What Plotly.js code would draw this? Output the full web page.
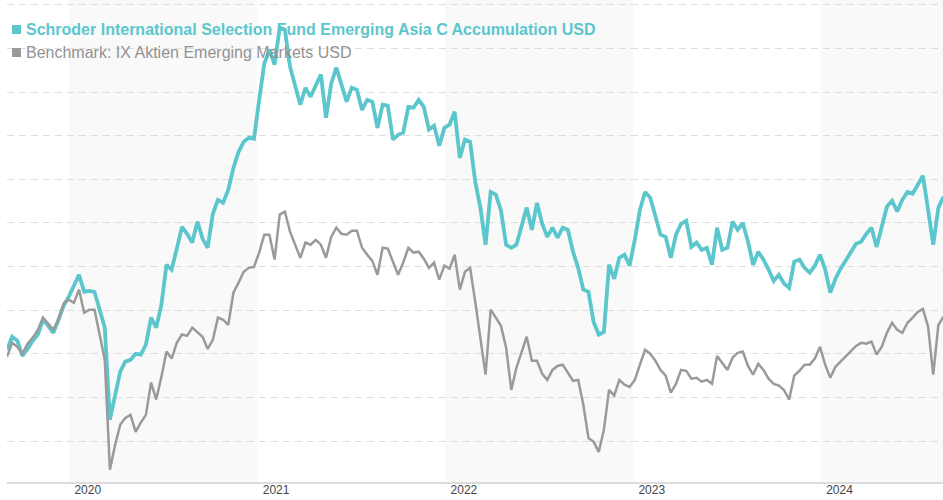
<!DOCTYPE html>
<html>
<head>
<meta charset="utf-8">
<script src="https://cdn.plot.ly/plotly-3.0.1.min.js"></script>
<style>
  html, body { margin: 0; padding: 0; background: #ffffff; }
  #chart { width: 943px; height: 500px; }
</style>
</head>
<body>
<div id="chart"></div>
<script>
// Cumulative performance (%) sampled every 10 days from 2019-09-03
const startDate = '2019-09-03';
const stepDays = 10;

const fundName = 'Schroder International Selection Fund Emerging Asia C Accumulation USD';
const benchName = 'Benchmark: IX Aktien Emerging Markets USD';

const fundValues = [
  0.9, 3.9, 3.0, -0.5, 1.1, 3.0, 4.4, 7.8, 6.4, 4.8,
  7.8, 11.0, 13.1, 15.4, 18.1, 14.2, 14.4, 14.2, 9.9, 6.0,
  -15.1, -9.4, -4.1, -1.8, -1.4, 0.0, -0.2, 2.1, 8.3, 6.0,
  11.2, 20.4, 19.3, 24.1, 29.1, 27.5, 25.5, 30.3, 26.4, 24.3,
  32.1, 35.3, 34.6, 37.6, 42.6, 46.3, 48.6, 49.5, 49.3, 58.2,
  66.5, 69.7, 66.3, 74.8, 74.3, 65.8, 61.7, 57.1, 61.0, 58.9,
  61.5, 64.0, 54.1, 61.9, 65.6, 61.7, 57.8, 61.0, 60.5, 55.9,
  58.2, 57.8, 51.8, 57.1, 56.9, 49.1, 50.2, 50.7, 56.6, 56.4,
  58.2, 56.6, 51.4, 52.3, 47.7, 51.8, 52.5, 55.5, 44.9, 49.1,
  48.6, 39.4, 33.5, 25.0, 37.1, 36.5, 32.8, 25.0, 24.3, 25.0,
  28.9, 33.5, 28.4, 34.6, 29.8, 26.8, 28.9, 26.6, 28.9, 28.4,
  23.4, 19.7, 14.7, 14.2, 7.3, 4.4, 5.0, 20.4, 17.2, 22.0,
  22.7, 20.2, 26.1, 33.0, 37.1, 35.8, 31.6, 27.3, 26.8, 22.0,
  27.3, 29.8, 30.5, 24.5, 25.5, 23.8, 24.3, 20.4, 28.9, 23.8,
  24.3, 30.3, 28.4, 30.0, 25.7, 20.4, 23.4, 21.6, 19.3, 16.7,
  18.1, 16.1, 15.1, 21.1, 21.6, 19.7, 18.6, 20.2, 22.7, 19.3,
  14.0, 17.2, 19.5, 21.3, 23.4, 25.2, 25.7, 27.5, 28.9, 24.5,
  29.1, 33.7, 35.1, 32.6, 35.3, 37.1, 36.7, 38.8, 40.8, 33.0,
  25.0, 33.5, 36.0
];

const benchValues = [
  -0.7, 2.5, 1.6, 0.0, 2.3, 3.7, 5.5, 8.3, 6.9, 5.5,
  7.8, 11.5, 12.4, 11.7, 14.7, 9.4, 10.1, 10.1, 4.4, -1.4,
  -26.6, -20.9, -16.3, -14.7, -14.0, -17.9, -15.8, -14.0, -6.6, -10.5,
  -5.3, 0.5, -1.1, 2.5, 4.4, 4.1, 6.0, 5.0, 3.9, 1.1,
  3.2, 8.3, 7.8, 6.6, 14.0, 16.3, 18.8, 19.7, 19.9, 23.2,
  27.3, 27.3, 21.6, 31.9, 32.6, 28.0, 25.0, 22.0, 25.5, 25.0,
  26.1, 25.0, 22.0, 26.8, 28.9, 27.5, 27.3, 28.2, 28.2, 24.3,
  22.7, 21.3, 18.1, 24.3, 24.1, 20.9, 18.1, 20.9, 24.3, 23.2,
  23.4, 21.8, 19.7, 20.9, 17.0, 20.2, 19.5, 22.7, 14.7, 18.8,
  19.7, 11.9, 3.2, -4.8, 10.1, 8.3, 6.4, 1.4, -8.3, -3.2,
  0.5, 3.9, -1.6, -1.6, -4.6, -6.0, -3.7, -2.8, -2.5, -4.4,
  -6.2, -6.0, -11.7, -19.3, -20.2, -22.5, -17.4, -8.3, -9.6, -6.0,
  -7.1, -7.6, -6.0, -2.5, 0.9, 0.0, -1.6, -3.7, -5.0, -8.9,
  -6.9, -3.7, -3.9, -5.7, -5.5, -6.4, -6.0, -6.9, -0.5, -2.1,
  -3.7, -0.9, 0.2, 0.5, -2.8, -4.8, -2.3, -3.7, -5.7, -6.9,
  -7.3, -8.3, -10.5, -5.0, -3.9, -2.5, -2.5, -1.1, 1.6, -2.5,
  -5.5, -3.0, -1.8, -0.5, 0.7, 1.8, 2.5, 2.3, 2.8, -0.2,
  1.6, 4.8, 7.1, 5.5, 4.8, 7.1, 8.3, 9.6, 10.3, 6.2,
  -4.8, 6.6, 8.5
];

const yearTicks = ['2020-01-01', '2021-01-01', '2022-01-01', '2023-01-01', '2024-01-01'];
const yearLabels = ['2020', '2021', '2022', '2023', '2024'];
const shadedYears = [['2020-01-01', '2021-01-01'], ['2022-01-01', '2023-01-01'], ['2024-01-01', '2025-01-01']];
const xRange = ['2019-09-03', '2024-08-26'];

const tealColor = '#5cc6cd';
const grayColor = '#9a9a9a';

function buildDates(n) {
  const t0 = Date.parse(startDate + 'T00:00:00Z');
  const out = [];
  for (let i = 0; i < n; i++) {
    out.push(new Date(t0 + i * stepDays * 86400000).toISOString().slice(0, 10));
  }
  return out;
}

const fundDates = buildDates(fundValues.length);
const benchDates = buildDates(benchValues.length);

const traces = [
  {
    x: fundDates, y: fundValues, type: 'scatter', mode: 'lines',
    name: fundName, line: { color: tealColor, width: 3.8 }, hoverinfo: 'skip'
  },
  {
    x: benchDates, y: benchValues, type: 'scatter', mode: 'lines',
    name: benchName, line: { color: grayColor, width: 2.5 }, hoverinfo: 'skip'
  }
];

const shapes = shadedYears.map(p => ({
  type: 'rect', xref: 'x', yref: 'paper', x0: p[0], x1: p[1], y0: 0, y1: 1,
  fillcolor: '#f9f9f9', line: { width: 0 }, layer: 'below'
}));
// legend squares
shapes.push({
  type: 'rect', xref: 'paper', yref: 'paper', xsizemode: 'pixel', ysizemode: 'pixel',
  xanchor: 0, yanchor: 1, x0: 5, x1: 14, y0: -34, y1: -25,
  fillcolor: tealColor, line: { width: 0 }
});
shapes.push({
  type: 'rect', xref: 'paper', yref: 'paper', xsizemode: 'pixel', ysizemode: 'pixel',
  xanchor: 0, yanchor: 1, x0: 5, x1: 14, y0: -57, y1: -48,
  fillcolor: grayColor, line: { width: 0 }
});

const annotations = [
  {
    xref: 'paper', yref: 'paper', x: 0, y: 1, xanchor: 'left', yanchor: 'middle',
    xshift: 17, yshift: -29, showarrow: false, text: '<b>' + fundName + '</b>',
    font: { family: 'Arial, Liberation Sans, sans-serif', size: 16, color: tealColor }
  },
  {
    xref: 'paper', yref: 'paper', x: 0, y: 1, xanchor: 'left', yanchor: 'middle',
    xshift: 17, yshift: -52, showarrow: false, text: benchName,
    font: { family: 'Arial, Liberation Sans, sans-serif', size: 16, color: '#929292' }
  }
];

const layout = {
  width: 943, height: 500,
  margin: { l: 7, r: 0, t: 0, b: 18 },
  paper_bgcolor: '#ffffff', plot_bgcolor: 'rgba(0,0,0,0)',
  showlegend: false,
  xaxis: {
    type: 'date', range: xRange, showgrid: false, zeroline: false,
    showline: true, linecolor: '#dcdcdc', linewidth: 2,
    tickmode: 'array', tickvals: yearTicks, ticktext: yearLabels,
    ticks: '', ticklen: 0, ticklabelshift: 19, ticklabelstandoff: -4,
    tickfont: { family: 'Arial, Liberation Sans, sans-serif', size: 12, color: '#444444' },
    fixedrange: true
  },
  yaxis: {
    range: [-29.4, 81.1], dtick: 10, tick0: 0, showticklabels: false,
    showgrid: true, gridcolor: '#dddddd', gridwidth: 1, griddash: '7px,5px',
    zeroline: false, showline: false, ticks: '', fixedrange: true
  },
  shapes: shapes,
  annotations: annotations
};

Plotly.newPlot('chart', traces, layout, { displayModeBar: false, staticPlot: true });
</script>
</body>
</html>
